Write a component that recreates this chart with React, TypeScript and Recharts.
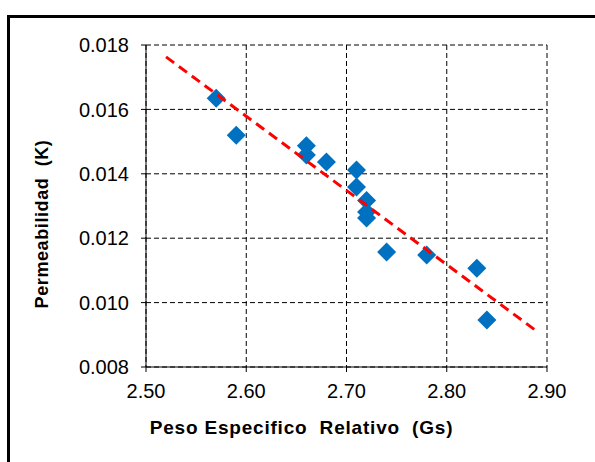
import React from "react";
import {
  ScatterChart,
  Scatter,
  XAxis,
  YAxis,
  CartesianGrid,
} from "recharts";

const gsValues = [2.57, 2.59, 2.66, 2.66, 2.68, 2.71, 2.71, 2.72, 2.72, 2.72, 2.74, 2.78, 2.83, 2.84];
const kValues = [0.01635, 0.0152, 0.01487, 0.01458, 0.01437, 0.01412, 0.01359, 0.01317, 0.01281, 0.01263, 0.01157, 0.01148, 0.01107, 0.00946];

const trendGs = [2.52, 2.892];
const trendK = [0.01763, 0.00906];

const xTicks = [2.5, 2.6, 2.7, 2.8, 2.9];
const yTicks = [0.008, 0.01, 0.012, 0.014, 0.016, 0.018];

const points = gsValues.map((gs, i) => ({ gs, k: kValues[i] }));
const trend = trendGs.map((gs, i) => ({ gs, k: trendK[i] }));

const Diamond = (props: any) => {
  const { cx, cy } = props;
  const r = 9.5;
  return (
    <polygon
      points={`${cx},${cy - r} ${cx + r},${cy} ${cx},${cy + r} ${cx - r},${cy}`}
      fill="#0070C0"
    />
  );
};

const font = "'Liberation Sans', Arial, sans-serif";
const tickStyle = { fill: "#000", fontSize: 20, fontFamily: font };
const titleStyle = { fill: "#000", fontSize: 19, fontWeight: "bold", fontFamily: font, letterSpacing: 0.8 };

const App: React.FC = () => (
  <div style={{ position: "fixed", left: 0, top: 0, width: 595, height: 462, background: "#fff", overflow: "hidden" }}>
    <div
      style={{
        position: "absolute",
        left: 7,
        top: 15,
        width: 620,
        height: 480,
        border: "3px solid #000",
      }}
    />
    <div style={{ position: "absolute", left: 0, top: 0 }}>
      <ScatterChart width={595} height={462} margin={{ top: 45, right: 48, bottom: 0, left: 0 }}>
        <CartesianGrid stroke="#000" strokeDasharray="5 3" />
        <XAxis
          type="number"
          dataKey="gs"
          domain={[2.5, 2.9]}
          ticks={xTicks}
          tickFormatter={(v: number) => v.toFixed(2)}
          axisLine={{ stroke: "#000" }}
          tickLine={{ stroke: "#000" }}
          tickSize={5}
          tickMargin={12}
          tick={tickStyle}
          height={95}
          label={{ value: "Peso Especifico\u00a0 Relativo\u00a0 (Gs)", position: "insideBottom", offset: 28, dx: -45, style: titleStyle }}
        />
        <YAxis
          type="number"
          dataKey="k"
          domain={[0.008, 0.018]}
          ticks={yTicks}
          tickFormatter={(v: number) => v.toFixed(3)}
          axisLine={{ stroke: "#000" }}
          tickLine={{ stroke: "#000" }}
          tickSize={5}
          tickMargin={12}
          tick={tickStyle}
          width={146}
          label={{ value: "Permeabilidad\u00a0 (K)", angle: -90, position: "insideLeft", offset: 42, dy: 18, style: { ...titleStyle, fontSize: 18, letterSpacing: 0.6, textAnchor: "middle" } }}
        />
        <Scatter data={points} shape={Diamond} isAnimationActive={false} />
        <Scatter
          data={trend}
          line={{ stroke: "#FF0000", strokeWidth: 3, strokeDasharray: "10 6" }}
          shape={() => null}
          isAnimationActive={false}
        />
      </ScatterChart>
    </div>
  </div>
);

export default App;
